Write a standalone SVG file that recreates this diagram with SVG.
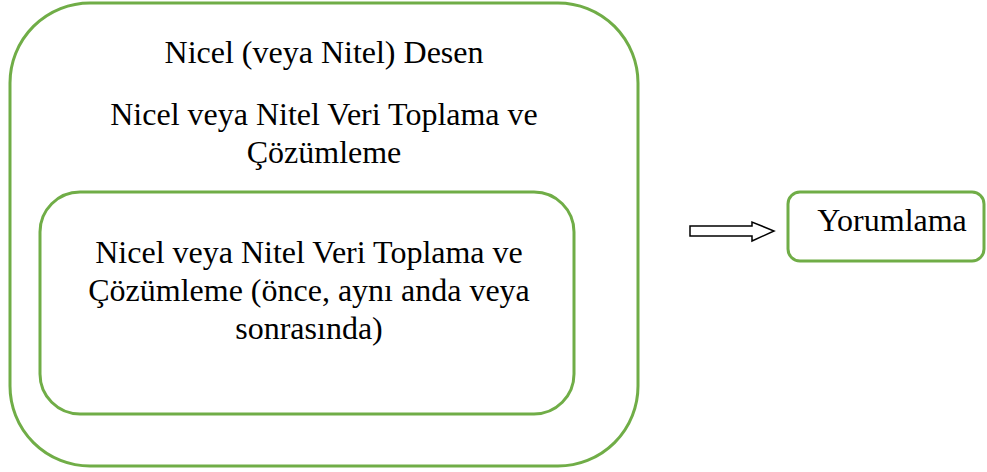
<svg xmlns="http://www.w3.org/2000/svg" width="987" height="472" viewBox="0 0 987 472">
<style>
.box{fill:#fff;stroke:#70ad47;stroke-width:3}
.t{font-family:"Liberation Serif","Times New Roman",serif;font-size:32px;fill:#000;text-anchor:middle}
</style>
<rect width="987" height="472" fill="#fff"/>
<g id="outer">
<rect class="box" x="10" y="3" width="628" height="463" rx="80" ry="80"/>
<text class="t" x="324" y="63">Nicel (veya Nitel) Desen</text>
<text class="t" x="324" y="125">Nicel veya Nitel Veri Toplama ve</text>
<text class="t" x="324" y="163">Çözümleme</text>
</g>
<g id="inner">
<rect class="box" x="40" y="192" width="534" height="222" rx="40" ry="40"/>
<text class="t" x="309" y="263">Nicel veya Nitel Veri Toplama ve</text>
<text class="t" x="309" y="301">Çözümleme (önce, aynı anda veya</text>
<text class="t" x="309" y="339">sonrasında)</text>
</g>
<g id="yorumlama">
<rect class="box" x="788" y="192" width="196" height="69" rx="12" ry="12"/>
<text class="t" x="892" y="231">Yorumlama</text>
</g>
<g id="connectors">
<path d="M690,226 L752,226 L752,222 L774,231 L752,241 L752,236 L690,236 Z" fill="#fff" stroke="#000" stroke-width="1.5"/>
</g>
</svg>
